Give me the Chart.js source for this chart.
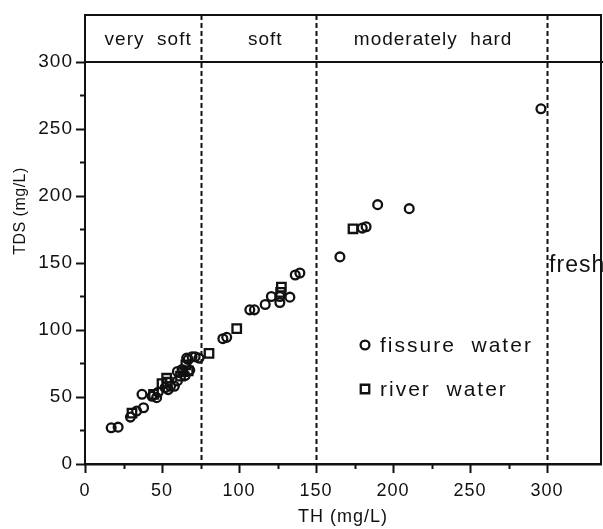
<!DOCTYPE html>
<html><head><meta charset="utf-8">
<script src="https://cdn.jsdelivr.net/npm/chart.js@4.4.1/dist/chart.umd.min.js"></script>
<style>html,body{margin:0;padding:0;background:#fff;}canvas{display:block;}</style>
</head><body>
<canvas id="c" width="603" height="529"></canvas>
<script>
// ---- data ----
const fissureTH  = [17, 21.5, 29.5, 33.5, 38, 37, 43.5, 46.5, 47.5, 52, 54, 55.5, 58, 60, 60, 63, 65, 68, 66, 67, 69.5, 71.5, 74, 89.5, 92, 107, 110, 117, 121, 126.5, 126.5, 133, 136.5, 139.5, 165.5, 180, 182.5, 190, 210.5, 296];
const fissureTDS = [27, 27.5, 35, 39.5, 42, 52, 50.5, 49.5, 53.5, 57, 55.5, 58, 58, 62, 69, 70.5, 66, 70, 79, 78, 80, 80, 79, 93.5, 94.5, 115, 115, 119, 125, 125, 120.5, 124.5, 141, 142.5, 154.5, 176, 177, 193.5, 190.5, 265];
const riverTH    = [30.5, 44.5, 50, 53.5, 53, 62, 63.5, 67, 65.5, 80.5, 98.5, 127, 127.5, 174];
const riverTDS   = [38, 52, 60, 61, 64, 65.5, 69, 69.5, 74, 82.5, 101, 128, 132, 175.5];
const seriesNames = ['fissure water', 'river water'];
const hardnessBounds = [75, 150, 300];
const hardnessLabels = ['very soft', 'soft', 'moderately hard'];
const hardnessLabelTH = [41, 117, 226];
const freshLabel = 'fresh';
const freshLabelTDS = 148;
const tickValues = [0, 50, 100, 150, 200, 250, 300];
const headerTDS = 300;
const axisMax = 335;
const xTitle = 'TH (mg/L)';
const yTitle = 'TDS (mg/L)';

const INK = '#111';
const FONT = '"Liberation Sans", Arial, sans-serif';

function pts(xs, ys) { return xs.map((x, i) => ({x: x, y: ys[i]})); }

const decor = {
  id: 'decor',
  beforeDraw(chart) { chart.ctx.letterSpacing = '1px'; },
  beforeDatasetsDraw(chart) {
    const {ctx, chartArea: a, scales: {x, y}} = chart;
    ctx.save();
    ctx.strokeStyle = INK;
    ctx.lineWidth = 2;
    ctx.setLineDash([5, 3]);
    hardnessBounds.forEach(v => {
      const px = Math.round(x.getPixelForValue(v)) + 0.5;
      ctx.beginPath(); ctx.moveTo(px, a.top); ctx.lineTo(px, a.bottom); ctx.stroke();
    });
    ctx.setLineDash([]);
    const hy = Math.round(y.getPixelForValue(headerTDS));
    ctx.lineWidth = 2;
    ctx.beginPath(); ctx.moveTo(a.left, hy); ctx.lineTo(a.right + 2, hy); ctx.stroke();
    ctx.beginPath(); ctx.moveTo(a.left - 1, a.top); ctx.lineTo(a.right, a.top); ctx.lineTo(a.right, a.bottom); ctx.stroke();
    x.ticks.forEach(t => {
      if (t.value > 300) return;
      const px = Math.round(x.getPixelForValue(t.value)) + 0.5;
      const len = tickValues.includes(t.value) ? 9 : 5;
      ctx.beginPath(); ctx.moveTo(px, a.bottom); ctx.lineTo(px, a.bottom + len); ctx.stroke();
    });
    y.ticks.forEach(t => {
      if (t.value > 300) return;
      const py = Math.round(y.getPixelForValue(t.value)) + 0.5;
      const len = tickValues.includes(t.value) ? 9 : 5;
      ctx.beginPath(); ctx.moveTo(a.left, py); ctx.lineTo(a.left - len, py); ctx.stroke();
    });
    ctx.restore();
  },
  afterDraw(chart) {
    const {ctx, chartArea: a, scales: {x, y}} = chart;
    ctx.save();
    ctx.fillStyle = INK;
    ctx.letterSpacing = '1px';
    ctx.font = '19px ' + FONT;
    ctx.textAlign = 'center';
    ctx.textBaseline = 'alphabetic';
    hardnessLabels.forEach((s, i) => {
      ctx.fillText(s.replace(' ', '  '), x.getPixelForValue(hardnessLabelTH[i]), a.top + 30);
    });
    ctx.save();
    ctx.font = '16px ' + FONT;
    ctx.letterSpacing = '0.5px';
    ctx.translate(a.left - 64, a.top + 196);
    ctx.rotate(-Math.PI / 2);
    ctx.textBaseline = 'middle';
    ctx.fillText(yTitle, 0, 0);
    ctx.restore();
    ctx.font = '23px ' + FONT;
    ctx.textAlign = 'left';
    ctx.textBaseline = 'middle';
    ctx.letterSpacing = '1px';
    ctx.fillText(freshLabel, x.getPixelForValue(300) + 2, y.getPixelForValue(freshLabelTDS));
    const lx = a.left + 280, ly = [345, 389];
    ctx.font = '21px ' + FONT;
    ctx.letterSpacing = '2px';
    chart.data.datasets.forEach((ds, i) => {
      ctx.strokeStyle = ds.borderColor;
      ctx.fillStyle = 'rgba(0,0,0,0)';
      ctx.lineWidth = ds.borderWidth;
      Chart.helpers.drawPoint(ctx, {pointStyle: ds.pointStyle, radius: ds.pointRadius, borderWidth: ds.borderWidth, rotation: 0}, lx, ly[i]);
      ctx.fillStyle = INK;
      ctx.fillText(ds.label.replace(' ', '  '), lx + 15, ly[i] + 1);
    });
    ctx.restore();
  }
};

const chart = new Chart(document.getElementById('c'), {
  type: 'scatter',
  data: {
    datasets: [
      {label: seriesNames[0], data: pts(fissureTH, fissureTDS), pointStyle: 'circle', pointRadius: 4.4,
       borderWidth: 2.3, borderColor: INK, backgroundColor: 'rgba(0,0,0,0)'},
      {label: seriesNames[1], data: pts(riverTH, riverTDS), pointStyle: 'rect', pointRadius: 6,
       borderWidth: 2.3, borderColor: INK, backgroundColor: 'rgba(0,0,0,0)'}
    ]
  },
  options: {
    responsive: false,
    animation: false,
    events: [],
    layout: {autoPadding: false, padding: {top: 15, right: 2, left: 0, bottom: 0}},
    plugins: {legend: {display: false}, tooltip: {enabled: false}},
    scales: {
      x: {
        type: 'linear', min: 0, max: axisMax,
        afterFit(s) { s.height = 65; s.paddingLeft = 0; s.paddingRight = 0; },
        grid: {display: false, drawTicks: false},
        border: {display: true, color: INK, width: 2.5},
        ticks: {stepSize: 25, padding: 16, color: INK, font: {family: FONT, size: 18},
                autoSkip: false, maxRotation: 0,
                callback: v => tickValues.includes(v) ? String(v) : ''},
        title: {display: true, text: xTitle, color: INK, font: {family: FONT, size: 18},
                padding: {top: 0, bottom: 1}}
      },
      y: {
        type: 'linear', min: 0, max: axisMax,
        afterFit(s) { s.width = 85; s.paddingTop = 0; s.paddingBottom = 0; },
        grid: {display: false, drawTicks: false},
        border: {display: true, color: INK, width: 2},
        ticks: {stepSize: 25, padding: 12, color: INK, font: {family: FONT, size: 19},
                autoSkip: false,
                callback: v => tickValues.includes(v) ? String(v) : ''},
        title: {display: false}
      }
    }
  },
  plugins: [decor]
});
</script>
</body></html>
